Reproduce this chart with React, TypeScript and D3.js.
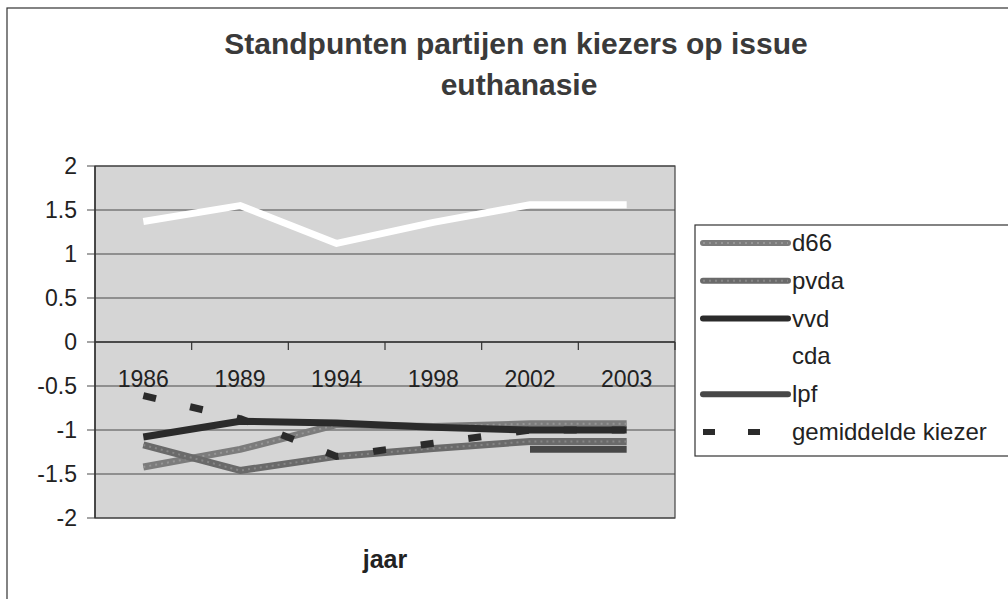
import * as d3 from "d3";

const years = ["1986", "1989", "1994", "1998", "2002", "2003"];
const d66 = [-1.42, -1.22, -0.94, -0.96, -0.93, -0.93];
const pvda = [-1.17, -1.46, -1.3, -1.21, -1.13, -1.13];
const vvd = [-1.08, -0.9, -0.92, -0.97, -1.0, -1.0];
const cda = [1.37, 1.55, 1.12, 1.36, 1.56, 1.56];
const lpf = [null, null, null, null, -1.22, -1.22];
const kiezer = [-0.61, -0.87, -1.3, -1.15, -1.0, -1.0];
const yTicks = [2, 1.5, 1, 0.5, 0, -0.5, -1, -1.5, -2];

const series = [
  { name: "d66", values: d66, color: "#7c7c7c", texture: "#969696", dash: null },
  { name: "pvda", values: pvda, color: "#6a6a6a", texture: "#868686", dash: null },
  { name: "vvd", values: vvd, color: "#2b2b2b", texture: null, dash: null },
  { name: "cda", values: cda, color: "#ffffff", texture: null, dash: null },
  { name: "lpf", values: lpf, color: "#474747", texture: null, dash: null },
  { name: "gemiddelde kiezer", values: kiezer, color: "#2b2b2b", texture: null, dash: "13 35" },
];

const font = "Arial, 'Liberation Sans', sans-serif";

export default function App() {
  const width = 1008;
  const height = 599;
  const plot = { left: 95, right: 675, top: 166, bottom: 518 };

  const x = d3.scaleBand().domain(years).range([plot.left, plot.right]).padding(0);
  const y = d3.scaleLinear().domain([-2, 2]).range([plot.bottom, plot.top]);
  const cx = (i: number) => (x(years[i]) as number) + x.bandwidth() / 2;

  const line = d3
    .line<number | null>()
    .defined((d) => d != null)
    .x((_, i) => cx(i))
    .y((d) => y(d as number));

  const legend = { x: 695, y: 225, w: 320, h: 231, row0: 243, step: 37.8 };

  return (
    <svg
      width={width}
      height={height}
      style={{ position: "absolute", left: 0, top: 0, display: "block", background: "#fff" }}
    >
      <rect x={7} y={8} width={1010} height={600} fill="#fff" stroke="#333" strokeWidth={1.2} />

      <text x={516} y={54} textAnchor="middle" fontFamily={font} fontWeight="bold" fontSize={30} fill="#3a3a3a">
        Standpunten partijen en kiezers op issue
      </text>
      <text x={519} y={95} textAnchor="middle" fontFamily={font} fontWeight="bold" fontSize={30} fill="#3a3a3a">
        euthanasie
      </text>

      {/* plot area */}
      <rect
        x={plot.left}
        y={plot.top}
        width={plot.right - plot.left}
        height={plot.bottom - plot.top}
        fill="#d5d5d5"
        stroke="#444"
        strokeWidth={1.2}
      />
      {yTicks.map((t) => (
        <g key={t}>
          <line x1={plot.left - 8} x2={plot.right} y1={y(t)} y2={y(t)} stroke="#4a4a4a" strokeWidth={1.2} />
          <text x={77} y={y(t) + 8} textAnchor="end" fontFamily={font} fontSize={23} fill="#222">
            {t}
          </text>
        </g>
      ))}
      <line x1={plot.left} x2={plot.left} y1={plot.top} y2={plot.bottom} stroke="#333" strokeWidth={1.5} />

      {/* category axis at 0 */}
      <line x1={plot.left} x2={plot.right} y1={y(0)} y2={y(0)} stroke="#333" strokeWidth={1.5} />
      {years.map((yr, i) => (
        <g key={yr}>
          <line
            x1={(x(yr) as number) + x.bandwidth()}
            x2={(x(yr) as number) + x.bandwidth()}
            y1={y(0)}
            y2={y(0) + 8}
            stroke="#333"
            strokeWidth={1.2}
          />
          <text x={cx(i)} y={387} textAnchor="middle" fontFamily={font} fontSize={23} fill="#222">
            {yr}
          </text>
        </g>
      ))}

      {/* series */}
      {series.map((s) => (
        <g key={s.name}>
          <path
            d={line(s.values) || ""}
            fill="none"
            stroke={s.color}
            strokeWidth={7}
            strokeLinejoin="round"
            strokeDasharray={s.dash || undefined}
          />
          {s.texture && (
            <path
              d={line(s.values) || ""}
              fill="none"
              stroke={s.texture}
              strokeWidth={2}
              strokeDasharray="2 4"
            />
          )}
        </g>
      ))}

      <text x={385} y={568} textAnchor="middle" fontFamily={font} fontWeight="bold" fontSize={25} fill="#222">
        jaar
      </text>

      {/* legend */}
      <rect x={legend.x} y={legend.y} width={legend.w} height={legend.h} fill="#fff" stroke="#333" strokeWidth={1.2} />
      {series.map((s, i) => {
        const ly = legend.row0 + i * legend.step;
        return (
          <g key={s.name}>
            <line
              x1={703}
              x2={788}
              y1={ly}
              y2={ly}
              stroke={s.color}
              strokeWidth={6}
              strokeLinecap={s.dash ? "butt" : "round"}
              strokeDasharray={s.dash ? "12 33" : undefined}
            />
            {s.texture && (
              <line x1={703} x2={788} y1={ly} y2={ly} stroke={s.texture} strokeWidth={2} strokeDasharray="2 4" />
            )}
            <text x={792} y={ly + 8} fontFamily={font} fontSize={24} fill="#222">
              {s.name}
            </text>
          </g>
        );
      })}
    </svg>
  );
}
